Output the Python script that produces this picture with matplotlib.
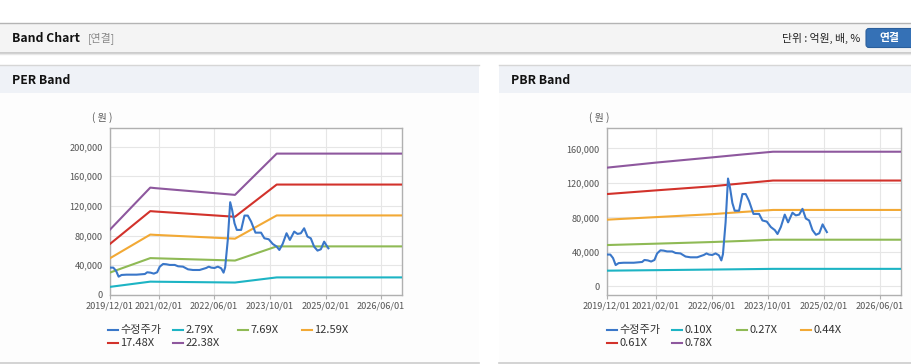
import matplotlib
matplotlib.use('Agg')
import matplotlib.pyplot as plt
import matplotlib.dates as mdates
from matplotlib.patches import Rectangle, FancyBboxPatch
from matplotlib.lines import Line2D
import pandas as pd

plt.rcParams['font.family'] = ['Noto Sans CJK KR', 'DejaVu Sans']

# adjusted stock price (shared by both charts)
price_dates = ['2019-12-01', '2020-01-01', '2020-01-25', '2020-02-17', '2020-03-14', '2020-04-27',
               '2020-07-23', '2020-10-04', '2020-10-24', '2020-11-22', '2020-12-21', '2021-01-19',
               '2021-02-11', '2021-03-12', '2021-04-10', '2021-05-09', '2021-06-22', '2021-07-21',
               '2021-09-02', '2021-10-16', '2021-11-28', '2022-01-25', '2022-03-24', '2022-04-16',
               '2022-05-07', '2022-06-05', '2022-07-04', '2022-08-02', '2022-08-23', '2022-09-06',
               '2022-09-29', '2022-10-20', '2022-11-06', '2022-11-27', '2022-12-17', '2023-01-24',
               '2023-02-22', '2023-03-23', '2023-04-21', '2023-05-29', '2023-07-17', '2023-08-15',
               '2023-09-22', '2023-10-27', '2023-12-01', '2023-12-24', '2024-01-22', '2024-02-25',
               '2024-03-25', '2024-05-02', '2024-05-31', '2024-06-29', '2024-07-28', '2024-08-26',
               '2024-09-24', '2024-10-23', '2024-11-22', '2024-12-21', '2025-01-19', '2025-02-02',
               '2025-02-25']
price_vals = [36900, 36900, 32800, 24700, 27000, 27400,
              27400, 28300, 30600, 30100, 28800, 30600,
              38200, 41800, 41400, 40500, 40500, 38700,
              38200, 34600, 33700, 33700, 36400, 38200,
              36900, 36400, 38200, 36000, 30100, 37300,
              74200, 125000, 114600, 96600, 87700, 87700,
              107000, 107000, 98900, 84000, 84000, 76400,
              75100, 68800, 65200, 60700, 68800, 83200,
              74200, 85400, 82300, 83200, 89900, 78700,
              76400, 65200, 59800, 61600, 71900, 68300,
              62900]

# PER band
per_dates = ['2019-12-01', '2020-11-20', '2021-01-01', '2022-12-01', '2023-12-01', '2026-12-01']
per_labels = ['2.79X', '7.69X', '12.59X', '17.48X', '22.38X']
per_279 = [10900, 18000, 17900, 16800, 23700, 23700]
per_769 = [30100, 49700, 49500, 46400, 65500, 65500]
per_1259 = [49300, 81400, 81000, 75900, 107200, 107200]
per_1748 = [68500, 113000, 112500, 105400, 148800, 148800]
per_2238 = [87700, 144700, 144000, 134900, 190500, 190500]

# PBR band
pbr_dates = ['2019-12-01', '2021-02-01', '2022-06-01', '2023-03-01', '2023-11-15', '2026-12-01']
pbr_labels = ['0.10X', '0.27X', '0.44X', '0.61X', '0.78X']
pbr_010 = [18200, 18800, 19500, 19900, 20300, 20300]
pbr_027 = [47900, 49500, 51400, 52700, 54100, 54100]
pbr_044 = [77300, 80300, 83700, 86300, 88600, 88600]
pbr_061 = [107000, 111300, 116000, 119500, 122700, 122700]
pbr_078 = [137600, 143500, 149500, 153000, 156100, 156100]

xticks = ['2019/12/01', '2021/02/01', '2022/06/01', '2023/10/01', '2025/02/01', '2026/06/01']

price_color = '#3a77c9'
band_colors = ['#1db4c4', '#8fba55', '#f2a935', '#d2322b', '#8e589e']

fig = plt.figure(figsize=(9.12, 3.64), dpi=100)
fig.patch.set_facecolor('white')

# page decoration drawn in pixel coordinates
bg = fig.add_axes([0, 0, 1, 1])
bg.set_xlim(0, 912)
bg.set_ylim(364, 0)
bg.axis('off')
bg.add_patch(Rectangle((0, 22.5), 912, 30, facecolor='#f4f4f4', edgecolor='none'))
bg.plot([0, 912], [22.5, 22.5], color='#b4b4b4', lw=1)
bg.plot([0, 912], [52.8, 52.8], color='#c4c4c4', lw=1.2)
bg.plot([0, 912], [54, 54], color='#e8e8e8', lw=1)
bg.text(12, 38, 'Band Chart', fontsize=8.8, fontweight='bold', color='#111', va='center')
bg.text(88, 38, '[연결]', fontsize=7.8, color='#888', va='center')
bg.text(860, 38, '단위 : 억원, 배, %', fontsize=7.8, color='#222', va='center', ha='right')
bg.add_patch(FancyBboxPatch((866, 28.5), 60, 19, boxstyle='round,pad=0,rounding_size=3',
                            facecolor='#3571b6', edgecolor='#2b5f9c', lw=0.8))
bg.text(889, 38, '연결', fontsize=7.8, fontweight='bold', color='white', va='center', ha='center')

for x0, x1, title in [(0, 479, 'PER Band'), (499, 912, 'PBR Band')]:
    bg.add_patch(Rectangle((x0, 64.5), x1 - x0, 28.5, facecolor='#eff2f7', edgecolor='none'))
    bg.add_patch(Rectangle((x0, 93), x1 - x0, 269.5, facecolor='#fdfdfd', edgecolor='none'))
    bg.plot([x0, x1], [64.5, 64.5], color='#d6d6d6', lw=1)
    bg.plot([x0, x1], [362.8, 362.8], color='#cccccc', lw=1.2)
    bg.text(x0 + 12, 80, title, fontsize=8.8, fontweight='bold', color='#111', va='center')


def draw_panel(rect, band_dates, bands, labels, ylim, yticks, leg_x, unit_x):
    ax = fig.add_axes(rect)
    ax.set_facecolor('white')
    bd = pd.to_datetime(band_dates)
    ax.plot(pd.to_datetime(price_dates), price_vals, color=price_color, lw=1.5, zorder=5)
    for vals, c in zip(bands, band_colors):
        ax.plot(bd, vals, color=c, lw=1.5, zorder=3)
    ax.set_xlim(pd.Timestamp('2019-12-01'), pd.Timestamp('2026-12-01'))
    ax.set_ylim(*ylim)
    ax.set_yticks(yticks)
    ax.set_yticklabels([f'{v:,}' for v in yticks])
    ax.set_xticks(pd.to_datetime(xticks))
    ax.xaxis.set_major_formatter(mdates.DateFormatter('%Y/%m/%d'))
    ax.grid(True, color='#e6e6e6', lw=0.8, zorder=0)
    ax.set_axisbelow(True)
    for s in ax.spines.values():
        s.set_color('#b0b0b0')
        s.set_linewidth(1)
    ax.tick_params(axis='x', length=3, color='#b0b0b0', pad=2, labelsize=6.6, labelcolor='#555')
    ax.tick_params(axis='y', length=0, pad=5, labelsize=6.6, labelcolor='#555')
    bg.text(unit_x, 118, '( 원 )', fontsize=7.2, color='#555', va='center')

    # legend
    names = ['수정주가'] + labels
    colors = [price_color] + band_colors
    offsets = [0, 65, 130, 194, 0, 65]
    for i, (n, c) in enumerate(zip(names, colors)):
        x = leg_x + offsets[i]
        y = 330 if i < 4 else 343
        bg.add_line(Line2D([x, x + 10], [y, y], color=c, lw=1.5))
        bg.text(x + 12.5, y, n, fontsize=8, color='#333', va='center')
    return ax


draw_panel([109.7 / 912, 1 - 295 / 364, 292.3 / 912, 167 / 364],
           per_dates, [per_279, per_769, per_1259, per_1748, per_2238], per_labels,
           (0, 225000), [0, 40000, 80000, 120000, 160000, 200000], 107.7, 92)
draw_panel([606.7 / 912, 1 - 295 / 364, 294.3 / 912, 167 / 364],
           pbr_dates, [pbr_010, pbr_027, pbr_044, pbr_061, pbr_078], pbr_labels,
           (-10000, 183600), [0, 40000, 80000, 120000, 160000], 606.7, 589)

fig.savefig('out.png', dpi=100)
